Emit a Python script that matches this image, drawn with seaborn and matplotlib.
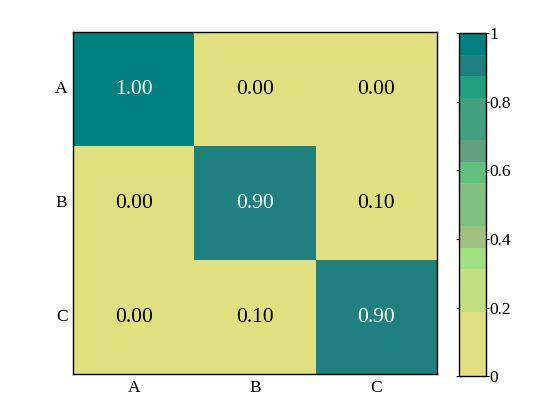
import matplotlib
matplotlib.use("Agg")
import matplotlib.pyplot as plt
import numpy as np
import pandas as pd
import seaborn as sns
from matplotlib.colors import ListedColormap

labels = ["A", "B", "C"]
values = [
    [1.00, 0.00, 0.00],
    [0.00, 0.90, 0.10],
    [0.00, 0.10, 0.90],
]
# 16 levels, lowest to highest (some repeat)
level_colors = [
    "#e0e080", "#e0e080", "#e0e080",
    "#c0e080", "#c0e080",
    "#a0e080",
    "#a0c080",
    "#80c080", "#80c080",
    "#60c080",
    "#60a080",
    "#40a080", "#40a080",
    "#20a080",
    "#208080",
    "#008080",
]
cbar_ticks = [0, 0.2, 0.4, 0.6, 0.8, 1.0]
cbar_ticklabels = ["0", "0.2", "0.4", "0.6", "0.8", "1"]

sns.set_style("white")
plt.rcParams["font.family"] = ["Liberation Serif", "DejaVu Serif"]

df = pd.DataFrame(values, index=labels, columns=labels)
cmap = ListedColormap(level_colors)

fig = plt.figure(figsize=(5.6, 4.2), dpi=100)
ax = fig.add_axes([0.1304, 0.1085, 0.6495, 0.8145])
cax = fig.add_axes([0.8205, 0.1043, 0.0465, 0.8166])

sns.heatmap(df, ax=ax, cbar_ax=cax, cmap=cmap, vmin=0, vmax=1,
            annot=True, fmt=".2f", annot_kws={"fontsize": 15.5})

# plain black / white annotation text
for txt, v in zip(ax.texts, np.array(values).ravel()):
    txt.set_color("white" if v >= 0.5 else "black")

for spine in ax.spines.values():
    spine.set_visible(True)
    spine.set_color("black")
    spine.set_linewidth(1.0)
ax.tick_params(axis="both", length=0, labelsize=12.5, pad=4, colors="black")
ax.set_yticklabels(labels, rotation=0)
ax.set_xticklabels(labels, rotation=0)

cbar = ax.collections[0].colorbar
cbar.set_ticks(cbar_ticks)
cbar.set_ticklabels(cbar_ticklabels)
cbar.outline.set_edgecolor("black")
cbar.outline.set_linewidth(1.0)
cax.tick_params(labelsize=12.5, direction="inout", length=5, width=0.8,
                left=True, right=True, pad=0, colors="black")

fig.savefig("out.png", dpi=100)
